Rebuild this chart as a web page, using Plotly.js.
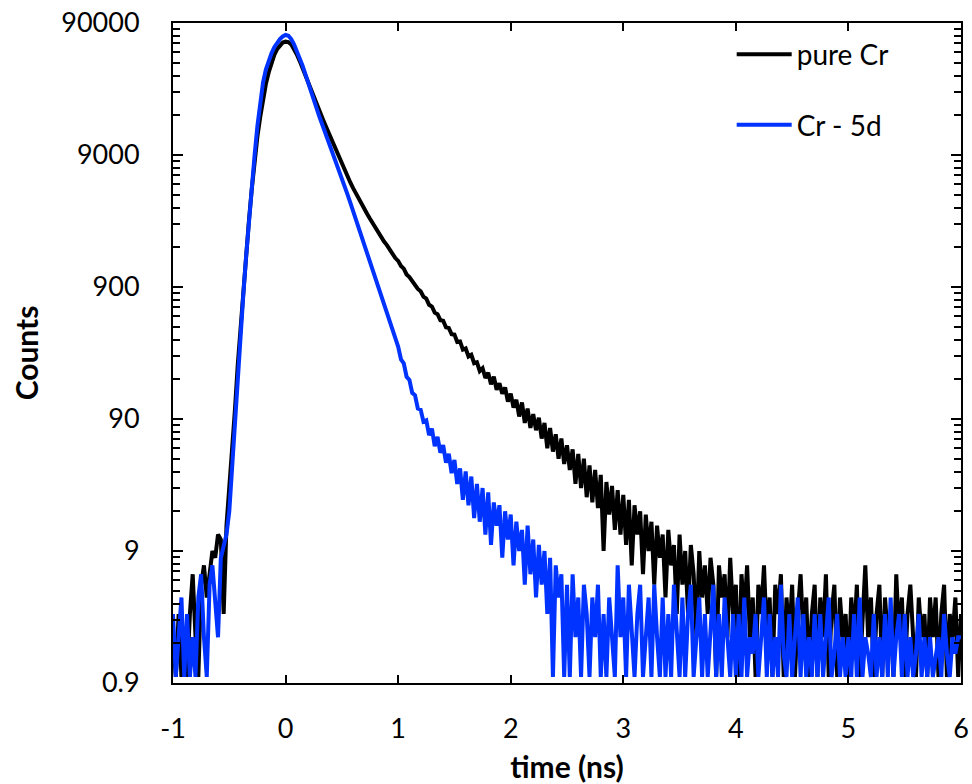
<!DOCTYPE html>
<html>
<head>
<meta charset="utf-8">
<script src="https://cdn.plot.ly/plotly-3.0.1.min.js"></script>
<style>html,body{margin:0;padding:0;background:#fff}#chart{width:972px;height:784px}</style>
</head>
<body>
<div id="chart"></div>
<script>
// time grid (ns)
const tStart = -1.0;
const tStep = 0.025;

// Series names
const seriesNames = ["pure Cr", "Cr - 5d"];

// Counts for pure Cr, one value per time step from -1.000 to 6.000 ns
const pureCr = [
  2,1,3,1,2,1,3,6,2,1,
  5,7,4,6,9,8,12,11,3,14,
  26,52,105,230,460,850,1600,2900,5000,8500,
  12500,17500,24000,31000,38000,45000,51500,57000,61000,64000,
  65000,64500,62000,57500,52000,46500,41000,36000,31000,27600,
  24600,21900,19400,17300,15400,13700,12100,10800,9600,8550,
  7600,6850,6150,5570,5050,4580,4170,3820,3500,3220,
  2960,2720,2530,2330,2180,1990,1870,1720,1620,1490,
  1420,1300,1240,1120,1070,995,950,870,835,760,
  735,660,640,575,560,505,500,445,440,395,
  392,345,348,302,308,268,276,238,242,208,
  218,184,202,165,188,150,168,140,156,122,
  140,110,126,94,120,84,108,77,98,74,
  92,64,84,54,77,51,69,45,64,41,
  57,37,53,29,49,27,45,23,40,21,
  37,19,34,9,30,17,28,13,26,12,
  24,10,22,7,20,12,18,6,17,9,
  15,5,14,8,12,4,13,7,10,3,
  12,5,9,3,10,6,2,9,4,7,
  3,8,5,1,7,4,6,2,8,3,
  5,1,6,3,7,2,4,1,5,3,
  7,2,4,1,5,3,6,1,4,2,
  5,1,3,6,2,4,1,3,5,1,
  4,2,6,1,3,5,1,4,2,3,
  1,4,2,5,1,3,7,2,4,1,
  3,5,1,4,2,3,1,6,2,4,
  1,3,5,2,1,4,2,3,1,4,
  2,4,1,3,5,1,3,2,4,1,
  3
];

// Counts for Cr - 5d, same time grid
const cr5d = [
  3,1,2,4,1,3,1,2,1,4,
  6,2,1,5,7,4,2,8,10,12,
  18,40,85,190,400,800,1550,2900,5100,9000,
  15000,23000,32000,40000,46500,53000,59000,64000,68000,71200,
  73000,72000,68000,62000,55500,49500,43000,37000,31500,27000,
  23300,20200,17600,15400,13500,11850,10400,9100,7950,6930,
  6030,5230,4530,3920,3380,2910,2500,2150,1850,1590,
  1390,1170,1030,860,770,635,570,475,425,350,
  318,255,238,188,178,142,136,108,106,86,
  88,68,76,56,66,50,57,42,49,35,
  44,29,38,22,36,20,33,16,29,15,
  27,12,25,10,21,14,20,8,18,11,
  17,7,15,9,13,5,14,6,11,4,
  10,5,9,3,8,1,7,4,6,1,
  5,1,6,2,4,1,5,3,1,4,
  2,5,1,3,1,4,2,1,7,2,
  4,1,5,2,1,3,5,1,2,4,
  1,5,2,1,4,1,3,1,5,2,
  1,4,1,3,5,1,2,4,1,3,
  1,2,5,1,3,1,4,2,1,3,
  1,3,1,4,1,2,1.5,3,1,2,
  4,1,3,1,2,1,5,1.5,1,3,
  1,2,4,1,3,1,2,1,3,1,
  3,1,2,4,1,1.5,3,1,2,1,
  2,1,3,1,4,1,2,1.5,1,3,
  1,2,1,3,1,4,1,2,3,1,
  3,1,2,1,1.5,3,1,2,1,2,
  1,1.5,2,1,3,1.5,1,2,1.5,2,
  2
];

// Axis tick labels
const xTickVals = [-1,0,1,2,3,4,5,6];
const xTickText = ["-1","0","1","2","3","4","5","6"];
const yTickVals = [0.9,9,90,900,9000,90000];
const yTickText = ["0.9","9","90","900","9000","90000"];

const time = pureCr.map((_, i) => +(tStart + i * tStep).toFixed(3));

// minor ticks at k * major for k=2..9
const yMinor = [];
yTickVals.slice(0, -1).forEach(v => { for (let k = 2; k <= 9; k++) yMinor.push(+(v * k).toPrecision(3)); });

const FONT = "Lato, 'Open Sans', sans-serif";

const traces = [
  {x: time, y: pureCr, name: seriesNames[0], type: "scatter", mode: "lines",
   line: {color: "#000000", width: 4}, legendgroup: "a"},
  {x: time, y: cr5d, name: seriesNames[1], type: "scatter", mode: "lines",
   line: {color: "#0033FF", width: 4}, legendgroup: "b"}
];

const layout = {
  width: 972, height: 784,
  margin: {l: 173, r: 11, t: 23, b: 101, pad: 0},
  paper_bgcolor: "#fff", plot_bgcolor: "#fff",
  font: {family: FONT, color: "#000", size: 27},
  showlegend: true,
  legend: {x: 0.709, y: 0.99, xanchor: "left", yanchor: "top",
           bgcolor: "rgba(0,0,0,0)", font: {size: 28, family: FONT},
           traceorder: "grouped", tracegroupgap: 31, itemwidth: 55},
  xaxis: {
    range: [-1, 6], tickmode: "array", tickvals: xTickVals, ticktext: xTickText,
    ticks: "inside", ticklen: 8, tickwidth: 2, tickcolor: "#000",
    showline: true, linewidth: 2, linecolor: "#000", mirror: "ticks",
    showgrid: false, zeroline: false,
    tickfont: {size: 27, family: FONT}, ticklabelstandoff: 21,
    title: {text: "<b>time (ns)</b>", font: {size: 30, family: FONT}, standoff: 19}
  },
  yaxis: {
    type: "log", range: [Math.log10(0.9), Math.log10(90000)],
    tickmode: "array", tickvals: yTickVals, ticktext: yTickText,
    ticks: "inside", ticklen: 10, tickwidth: 2, tickcolor: "#000",
    minor: {tickmode: "array", tickvals: yMinor, ticks: "inside", ticklen: 7, tickwidth: 2, tickcolor: "#000", showgrid: false},
    showline: true, linewidth: 2, linecolor: "#000", mirror: "ticks",
    showgrid: false, zeroline: false,
    tickfont: {size: 27, family: FONT}, ticklabelstandoff: 26,
    title: {text: "<b>Counts</b>", font: {size: 30, family: FONT}, standoff: 14}
  }
};

Plotly.newPlot("chart", traces, layout, {displayModeBar: false, staticPlot: true});
</script>
</body>
</html>
